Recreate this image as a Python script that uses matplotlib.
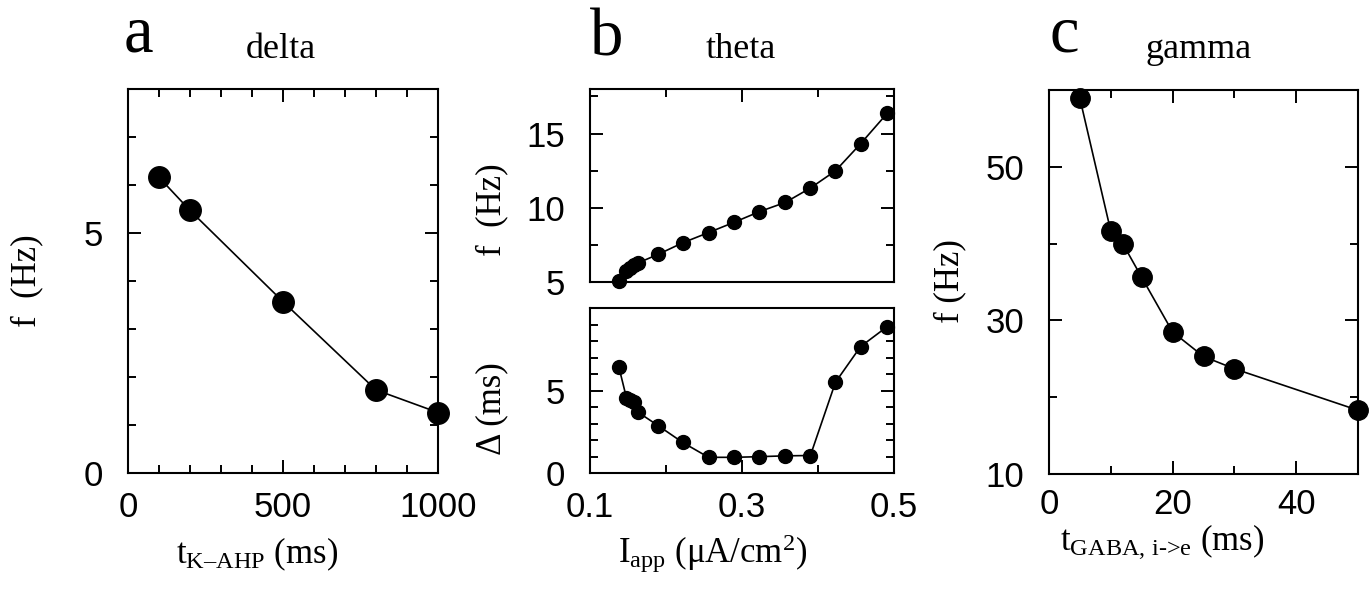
import matplotlib
matplotlib.use("Agg")
import matplotlib.pyplot as plt
from matplotlib.ticker import MultipleLocator, FixedLocator

plt.rcParams['font.family'] = ['Liberation Sans', 'DejaVu Sans']
plt.rcParams['mathtext.fontset'] = 'custom'
plt.rcParams['mathtext.rm'] = 'Liberation Serif'
plt.rcParams['mathtext.it'] = 'Liberation Serif:italic'

# data
delta_tau = [100, 200, 500, 800, 1000]
delta_f = [6.16, 5.47, 3.57, 1.73, 1.26]

theta_iapp = [0.138, 0.148, 0.153, 0.158, 0.163, 0.190, 0.222, 0.256,
              0.290, 0.323, 0.357, 0.390, 0.423, 0.456, 0.491]
theta_f = [5.05, 5.72, 5.97, 6.15, 6.28, 6.87, 7.64, 8.33,
           9.03, 9.74, 10.36, 11.33, 12.49, 14.31, 16.36]
theta_lag = [6.42, 4.55, 4.45, 4.32, 3.69, 2.86, 1.85, 0.95,
             0.95, 0.99, 1.04, 1.06, 5.50, 7.66, 8.87]

gamma_tau = [5, 10, 12, 15, 20, 25, 30, 50]
gamma_f = [58.9, 41.6, 39.9, 35.6, 28.5, 25.3, 23.7, 18.3]

W, H = 1370, 589
fig = plt.figure(figsize=(W / 100, H / 100), dpi=100)


def add_ax(left, right, top, bottom):
    return fig.add_axes([left / W, 1 - bottom / H, (right - left) / W, (bottom - top) / H])


def style(ax, top=True, bottom=True):
    for s in ax.spines.values():
        s.set_linewidth(1.5)
    ax.tick_params(which='both', direction='in', top=top, bottom=bottom,
                   right=True, left=True, width=1.4, labelsize=25)
    ax.tick_params(which='major', length=9.5)
    ax.tick_params(which='minor', length=5.5)
    ax.tick_params(axis='x', pad=13)
    ax.tick_params(axis='y', pad=18)


def fig_text(x, y, s, **kw):
    fig.text(x / W, 1 - y / H, s, **kw)


serif = 'Liberation Serif'

# panel a: delta
ax = add_ax(128, 438, 89, 473)
ax.plot(delta_tau, delta_f, '-o', color='black', lw=1.2, ms=15.5, clip_on=False)
ax.set_xlim(0, 1000)
ax.set_ylim(0, 8)
ax.xaxis.set_major_locator(FixedLocator([0, 500, 1000]))
ax.xaxis.set_minor_locator(MultipleLocator(100))
ax.yaxis.set_major_locator(FixedLocator([0, 5]))
ax.yaxis.set_minor_locator(MultipleLocator(1))
style(ax)

# panel b: theta, frequency and lag
axb1 = add_ax(590, 894, 89, 282)
axb1.plot(theta_iapp, theta_f, '-o', color='black', lw=1.2, ms=10, clip_on=False)
axb1.set_xlim(0.1, 0.5)
axb1.set_ylim(5, 18)
axb1.xaxis.set_major_locator(FixedLocator([0.1, 0.3, 0.5]))
axb1.xaxis.set_minor_locator(FixedLocator([0.2, 0.4]))
axb1.yaxis.set_major_locator(FixedLocator([5, 10, 15]))
axb1.yaxis.set_minor_locator(FixedLocator([7.5, 12.5, 17.5]))
style(axb1, top=True, bottom=False)
axb1.tick_params(labelbottom=False)

axb2 = add_ax(590, 894, 308, 473)
axb2.plot(theta_iapp, theta_lag, '-o', color='black', lw=1.2, ms=10, clip_on=False)
axb2.set_xlim(0.1, 0.5)
axb2.set_ylim(0, 10)
axb2.xaxis.set_major_locator(FixedLocator([0.1, 0.3, 0.5]))
axb2.xaxis.set_minor_locator(FixedLocator([0.2, 0.4]))
axb2.yaxis.set_major_locator(FixedLocator([0, 5]))
axb2.yaxis.set_minor_locator(MultipleLocator(1))
style(axb2, top=False, bottom=True)

# panel c: gamma
axc = add_ax(1049, 1358, 90, 474)
axc.plot(gamma_tau, gamma_f, '-o', color='black', lw=1.2, ms=14, clip_on=False)
axc.set_xlim(0, 50)
axc.set_ylim(10, 60)
axc.xaxis.set_major_locator(FixedLocator([0, 20, 40]))
axc.xaxis.set_minor_locator(FixedLocator([10, 30, 50]))
axc.yaxis.set_major_locator(FixedLocator([10, 30, 50]))
axc.yaxis.set_minor_locator(FixedLocator([20, 40, 60]))
style(axc)
axc.tick_params(axis='x', pad=10)

# panel letters and titles
fig_text(124, 51, 'a', fontsize=48, family=serif, ha='left', va='baseline')
fig_text(590, 55, 'b', fontsize=48, family=serif, ha='left', va='baseline')
fig_text(1049, 51, 'c', fontsize=48, family=serif, ha='left', va='baseline')
fig_text(281, 58, 'delta', fontsize=26, family=serif, ha='center', va='baseline')
fig_text(741, 58, 'theta', fontsize=26, family=serif, ha='center', va='baseline')
fig_text(1199, 58, 'gamma', fontsize=26, family=serif, ha='center', va='baseline')

# axis labels
fig_text(27, 281, 'f  (Hz)', fontsize=25, family=serif, rotation=90, ha='center', va='center')
fig_text(492, 210, 'f  (Hz)', fontsize=25, family=serif, rotation=90, ha='center', va='center')
fig_text(492, 409, 'Δ (ms)', fontsize=25, family=serif, rotation=90, ha='center', va='center')
fig_text(950, 281, 'f (Hz)', fontsize=25, family=serif, rotation=90, ha='center', va='center')

fig_text(257, 563, r'$\mathrm{t_{K\text{–}AHP}}$ (ms)', fontsize=25, family=serif,
         ha='center', va='baseline')
fig_text(713, 563, r'$\mathrm{I_{app}}$ (μA/cm$^{\mathrm{2}}$)', fontsize=25, family=serif,
         ha='center', va='baseline')
fig_text(1162, 550, r'$\mathrm{t_{GABA,\,i\text{->}e}}$ (ms)', fontsize=25, family=serif,
         ha='center', va='baseline')

fig.savefig('out.png', dpi=100)
